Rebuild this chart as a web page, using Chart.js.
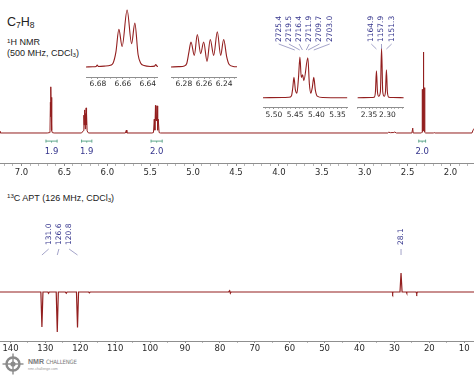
<!DOCTYPE html>
<html><head><meta charset="utf-8">
<script src="https://cdn.jsdelivr.net/npm/chart.js@4"></script>
<style>
html,body{margin:0;padding:0;background:#fff;}
#wrap{position:relative;width:474px;height:377px;overflow:hidden;background:#fff;font-family:'Liberation Sans',Arial,sans-serif;color:#222;}
canvas{position:absolute;}
.t{position:absolute;white-space:nowrap;}
.sb{font-size:0.68em;position:relative;top:0.25em;}
.sp{font-size:0.68em;position:relative;top:-0.4em;}
</style></head><body>
<div id="wrap">
  <div class="t" style="left:7px;top:16px;font-size:12.5px;line-height:12.5px;">C<span class="sb">7</span>H<span class="sb">8</span></div>
  <div class="t" style="left:7px;top:38px;font-size:9px;line-height:9px;"><span class="sp">1</span>H NMR</div>
  <div class="t" style="left:7px;top:48.5px;font-size:9px;line-height:9px;">(500 MHz, CDCl<span class="sb">3</span>)</div>
  <div class="t" style="left:7px;top:193.5px;font-size:9px;line-height:9px;"><span class="sp">13</span>C APT (126 MHz, CDCl<span class="sb">3</span>)</div>
  <svg style="position:absolute;left:2px;top:353px;" width="22" height="22" viewBox="0 0 22 22">
    <circle cx="11" cy="11" r="6.5" fill="none" stroke="#8a8a8a" stroke-width="2.4"/>
    <circle cx="11" cy="11" r="2.6" fill="#8a8a8a"/>
    <line x1="11" y1="0.5" x2="11" y2="21.5" stroke="#8a8a8a" stroke-width="1.4"/>
    <line x1="0.5" y1="11" x2="21.5" y2="11" stroke="#8a8a8a" stroke-width="1.4"/>
  </svg>
  <div class="t" style="left:28px;top:358px;font-size:7px;line-height:7px;color:#7a7a7a;"><b>NMR</b> <span style="font-family:'Liberation Sans Narrow','DejaVu Sans Condensed',sans-serif;font-size:6px;letter-spacing:-0.2px;">CHALLENGE</span></div>
  <div class="t" style="left:28px;top:367px;font-size:3.5px;line-height:4px;color:#9a9a9a;">nmr-challenge.com</div>
</div>
<script>
// ---------- DATA ----------
// 1H main spectrum (ppm, relative intensity)
const h1Ppm = [7.30,7.262,7.255,7.24,6.70,6.672,6.668,6.6632,6.6606,6.6566,6.653,6.6504,6.6458,6.641,6.62,
  6.30,6.2771,6.2729,6.2696,6.2666,6.2633,6.2603,6.257,6.2538,6.2504,6.2468,6.2435,6.2405,6.2352,6.22,
  5.79,5.778,5.772,5.48,5.462,5.4528,5.4458,5.4387,5.4348,5.4324,5.4277,5.420,5.413,5.406,5.396,5.38,
  2.73,2.72,2.70,2.66,2.65,2.63,2.45,2.44,2.435,2.34,2.332,2.3298,2.326,2.3195,2.3158,2.312,2.3055,2.3026,2.299,2.29,
  2.20,2.19,2.18,1.75,1.735,1.72];
const h1Int = [0,0.02,0.005,0,0,0.005,0.03,0.38,0.2,0.57,0.23,0.44,0.03,0.005,0,
  0,0.03,0.22,0.10,0.285,0.12,0.22,0.05,0.24,0.10,0.31,0.10,0.24,0.025,0,
  0,0.035,0,0,0.005,0.17,0.035,0.34,0.17,0.19,0.15,0.335,0.035,0.17,0.005,0,
  0,0.01,0.004,0.006,0.012,0,0,0.06,0,0,0.01,0.54,0.02,0.03,1.0,0.03,0.02,0.56,0.01,0,
  0,0.005,0,0,0.04,0.06];
const h1Labels = [7.0,6.5,6.0,5.5,5.0,4.5,4.0,3.5,3.0,2.5,2.0];

// integrals
const integralFrom = [6.715,6.30,5.49,2.37];
const integralTo   = [6.585,6.18,5.36,2.29];
const integralValues = ['1.9','1.9','2.0','2.0'];

// inset 1 (6.66 ppm)
const inset1Ppm = [6.6896,6.684,6.6815,6.6806,6.6797,6.675,6.670,6.6678,6.6656,6.6632,6.6606,6.6566,6.653,6.6504,6.6478,6.6458,6.643,6.638,6.6345,6.6336,6.6327,6.6318];
const inset1Int = [0,0.005,0.01,0.035,0.01,0.015,0.03,0.07,0.26,0.66,0.36,1.0,0.41,0.77,0.22,0.07,0.025,0.01,0.015,0.045,0.015,0.01];
const inset1Labels = [6.68,6.66,6.64];

// inset 2 (6.26 ppm)
const inset2Ppm = [6.2927,6.285,6.2795,6.2771,6.2749,6.2729,6.2696,6.2666,6.2633,6.2603,6.257,6.2538,6.2504,6.2468,6.2435,6.2405,6.2375,6.2352,6.231,6.2273];
const inset2Int = [0,0.01,0.03,0.1,0.43,0.71,0.33,0.92,0.38,0.71,0.16,0.78,0.33,1.0,0.33,0.78,0.29,0.08,0.015,0.005];
const inset2Labels = [6.28,6.26,6.24];

// inset 3 (5.43 ppm)
const inset3Ppm = [5.5258,5.48,5.465,5.4585,5.4555,5.4528,5.4495,5.4458,5.442,5.4387,5.4355,5.4324,5.4295,5.420,5.4165,5.413,5.4095,5.406,5.4025,5.398,5.385,5.3267];
const inset3Int = [0,0.005,0.01,0.05,0.25,0.5,0.2,0.11,0.5,1.0,0.5,0.56,0.42,0.98,0.35,0.11,0.25,0.5,0.2,0.04,0.005,0];
const inset3Labels = [5.50,5.45,5.40,5.35];
const inset3PeaksHz = ['2725.4','2719.5','2716.4','2711.9','2709.7','2703.0'];

// inset 4 (2.32 ppm)
const inset4Ppm = [2.3816,2.345,2.336,2.3325,2.3298,2.327,2.3235,2.319,2.3158,2.3126,2.3085,2.3052,2.3026,2.300,2.296,2.285,2.2553];
const inset4Int = [0,0.003,0.01,0.12,0.54,0.12,0.03,0.12,1.0,0.12,0.03,0.12,0.56,0.12,0.01,0.003,0];
const inset4Labels = [2.35,2.30];
const inset4PeaksHz = ['1164.9','1157.9','1151.3'];
const spectrometerMHz = 500;

// 13C APT
const c13Ppm = [143.5,131.3,131.0,130.7,129.3,129.1,128.9,126.9,126.6,126.3,124.3,124.0,123.8,121.1,120.8,120.5,117.6,117.4,117.2,
  77.5,77.2,77.0,76.8,30.6,30.5,30.4,28.4,28.1,27.8,26.6,26.5,26.4,23.8,23.6,23.4,7.0];
const c13Int = [0,0,-0.875,0,0,-0.03,0,0,-1.0,0,0,-0.03,0,0,-0.89,0,0,-0.02,0,
  0,0.03,-0.03,0,0,-0.03,0,0,0.475,0,0,-0.03,0,0,-0.04,0,0];
const c13Labels = [140,130,120,110,100,90,80,70,60,50,40,30,20,10];
const c13NegPeaks = ['131.0','126.6','120.8'];
const c13PosPeaks = ['28.1'];

// ---------- DRAWING ----------
const wrap = document.getElementById('wrap');
const RED = '#931f1f';
const AX = '#8f8f8f';
const AXMINOR = '#b8b8b8';
const BLUE = '#34348c';

function minorTicks(hi, lo, step){
  const out=[]; const n=Math.round((hi-lo)/step);
  for(let i=0;i<=n;i++) out.push(+(hi-i*step).toFixed(6));
  return out;
}
function spectrum(box, ppm, ints, o){
  const c=document.createElement('canvas');
  c.width=box.w; c.height=box.areaBottom+box.axisH-box.top;
  c.style.left=box.left+'px'; c.style.top=box.top+'px';
  c.style.width=box.w+'px'; c.style.height=c.height+'px';
  wrap.appendChild(c);
  const labelSet=o.labels;
  const isLab=v=>labelSet.some(l=>Math.abs(l-v)<1e-6);
  return new Chart(c,{
    type:'line',
    data:{datasets:[{data:ppm.map((p,i)=>({x:p,y:ints[i]})),borderColor:o.color||RED,borderWidth:o.lw||1,
      pointRadius:0,fill:false,tension:o.smooth?0.4:0,cubicInterpolationMode:o.smooth?'monotone':'default'}]},
    options:{
      responsive:false,animation:false,events:[],
      layout:{padding:{top:box.areaTop-box.top,left:0,right:0,bottom:0}},
      plugins:{legend:{display:false},tooltip:{enabled:false}},
      scales:{
        x:{type:'linear',reverse:true,bounds:'data',min:o.xmin,max:o.xmax,
          afterBuildTicks:s=>{s.ticks=o.ticks.map(v=>({value:v}));},
          afterFit:s=>{s.height=box.axisH;},
          border:{display:true,color:AX,width:1},
          grid:{drawOnChartArea:false,drawTicks:true,tickLength:o.tickLen,color:AX,
            tickColor:(ctx)=>ctx.tick&&isLab(ctx.tick.value)?AX:AXMINOR,lineWidth:1},
          ticks:{autoSkip:false,maxRotation:0,minRotation:0,padding:o.pad,color:'#2a2a2a',
            font:{family:'DejaVu Sans',size:o.fs},
            callback:(v)=>{const m=labelSet.find(l=>Math.abs(l-v)<1e-6);return m===undefined?'':m.toFixed(o.dec);}}
        },
        y:{display:false,min:o.ymin,max:o.ymax}
      }
    },
    plugins:o.plugins||[]
  });
}
function peakLabels(names, ppms, cfg){
  return {id:'pl'+cfg.id, afterDraw(chart){
    const ctx=chart.ctx, xs=chart.scales.x;
    const px=ppms.map(p=>xs.getPixelForValue(p));
    const mean=px.reduce((a,b)=>a+b,0)/px.length;
    ctx.save();
    ctx.strokeStyle='#8d8dbb'; ctx.lineWidth=0.8;
    names.forEach((n,i)=>{
      const lx=mean+(i-(names.length-1)/2)*cfg.spacing;
      ctx.beginPath(); ctx.moveTo(lx,cfg.connTop); ctx.lineTo(px[i],cfg.connBottom); ctx.stroke();
      ctx.save(); ctx.translate(lx,cfg.textBottom); ctx.rotate(-Math.PI/2);
      ctx.fillStyle=BLUE; ctx.font='7.5px "DejaVu Sans"'; ctx.textAlign='left'; ctx.textBaseline='middle';
      ctx.fillText(n,0,0); ctx.restore();
    });
    ctx.restore();
  }};
}
const integralPlugin={id:'integrals',afterDraw(chart){
  const ctx=chart.ctx, xs=chart.scales.x, ys=chart.scales.y;
  const y=ys.getPixelForValue(-0.1);
  ctx.save();
  integralFrom.forEach((f,i)=>{
    const x1=xs.getPixelForValue(f), x2=xs.getPixelForValue(integralTo[i]);
    ctx.strokeStyle='#62a88e'; ctx.lineWidth=1;
    ctx.beginPath(); ctx.moveTo(x1,y); ctx.lineTo(x2,y);
    ctx.moveTo(x1,y-1.5); ctx.lineTo(x1,y+1.5);
    ctx.moveTo(x2,y-1.5); ctx.lineTo(x2,y+1.5);
    ctx.moveTo((x1+x2)/2,y); ctx.lineTo((x1+x2)/2,y+1.5);
    ctx.stroke();
    ctx.fillStyle=BLUE; ctx.font='8.5px "DejaVu Sans"'; ctx.textAlign='center'; ctx.textBaseline='middle';
    ctx.fillText(integralValues[i],(x1+x2)/2,y+11);
  });
  ctx.restore();
}};

// main 1H
spectrum({left:0,w:474,top:44,areaTop:44,areaBottom:163,axisH:20},h1Ppm,h1Int,
  {xmin:1.7261,xmax:7.2506,ymin:-0.3704,ymax:1.0988,ticks:minorTicks(7.2,1.8,0.1),labels:h1Labels,dec:1,
   tickLen:3,pad:2,fs:8.5,lw:1,plugins:[integralPlugin]});
// inset 1
spectrum({left:86,w:72,top:0,areaTop:5,areaBottom:77,axisH:12},inset1Ppm,inset1Int,
  {xmin:6.6318,xmax:6.6896,ymin:-0.1754,ymax:1.0877,ticks:minorTicks(6.685,6.635,0.005),labels:inset1Labels,dec:2,
   tickLen:2,pad:1,fs:7.5,lw:1.1,smooth:true});
// inset 2
spectrum({left:171,w:66,top:0,areaTop:25,areaBottom:77,axisH:12},inset2Ppm,inset2Int,
  {xmin:6.2273,xmax:6.2927,ymin:-0.2833,ymax:1.19,ticks:minorTicks(6.29,6.23,0.005),labels:inset2Labels,dec:2,
   tickLen:2,pad:1,fs:7.5,lw:1.1,smooth:true});
// inset 3
spectrum({left:263,w:85,top:0,areaTop:50,areaBottom:107,axisH:13},inset3Ppm,inset3Int,
  {xmin:5.3267,xmax:5.5258,ymin:-0.2285,ymax:1.172,ticks:minorTicks(5.52,5.33,0.01),labels:inset3Labels,dec:2,
   tickLen:2,pad:2,fs:7.5,lw:1.1,smooth:true,
   plugins:[peakLabels(inset3PeaksHz,inset3PeaksHz.map(h=>parseFloat(h)/spectrometerMHz),{id:3,spacing:10.2,textBottom:42,connTop:44,connBottom:50})]});
// inset 4
spectrum({left:356,w:48,top:0,areaTop:44,areaBottom:107,axisH:13},inset4Ppm,inset4Int,
  {xmin:2.2553,xmax:2.3816,ymin:-0.1871,ymax:1.0805,ticks:minorTicks(2.38,2.26,0.01),labels:inset4Labels,dec:2,
   tickLen:2,pad:2,fs:7.5,lw:1.1,smooth:true,
   plugins:[peakLabels(inset4PeaksHz,inset4PeaksHz.map(h=>parseFloat(h)/spectrometerMHz),{id:4,spacing:10.2,textBottom:42,connTop:44,connBottom:49})]});
// 13C
spectrum({left:0,w:474,top:200,areaTop:250,areaBottom:341,axisH:14},c13Ppm,c13Int,
  {xmin:7.192,xmax:143.009,ymin:-1.225,ymax:1.05,ticks:minorTicks(140,10,5),labels:c13Labels,dec:0,
   tickLen:2,pad:1,fs:8.5,lw:1.2,
   plugins:[peakLabels(c13NegPeaks,c13NegPeaks.map(parseFloat),{id:'c',spacing:10.2,textBottom:45,connTop:49,connBottom:55}),
            peakLabels(c13PosPeaks,c13PosPeaks.map(parseFloat),{id:'d',spacing:10.2,textBottom:45,connTop:49,connBottom:55})]});
</script>
</body></html>
